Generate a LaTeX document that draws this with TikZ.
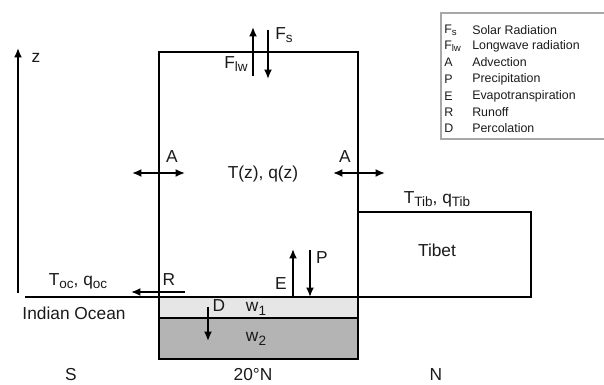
\documentclass[tikz,border=0pt]{standalone}
\usepackage{fontspec}
\setmainfont{Liberation Sans}
\usepackage{xcolor}
\usepackage{tikz}
\usetikzlibrary{arrows.meta}
\definecolor{MBSoilTop}{HTML}{E6E6E6}
\definecolor{MBSoilLow}{HTML}{B4B4B4}
\definecolor{MBFrame}{HTML}{A8A8A8}
\definecolor{MBText}{HTML}{1A1A1A}
\newcommand{\lowsub}[1]{\raisebox{-0.35ex}{\fontsize{0.78em}{1em}\selectfont #1}}

\begin{document}
\begin{tikzpicture}[x=0.75pt,y=-0.75pt,
  wall/.style={line width=1.4pt,black},
  flux/.style={line width=1.4pt,-{Latex[length=7pt,width=6pt]}},
  flux2/.style={line width=1.4pt,{Latex[length=7pt,width=6pt]}-{Latex[length=7pt,width=6pt]}},
  lbl/.style={inner sep=0pt,text=MBText,font=\fontsize{13}{15}\selectfont},
  legtxt/.style={anchor=west,inner sep=0pt,text=MBText,font=\fontsize{9.3}{11}\selectfont}]
\path[use as bounding box] (0,0) rectangle (604,385);
% soil layers
\fill[MBSoilLow] (159,318) rectangle (358,359);
\fill[MBSoilTop] (159,297) rectangle (358,318);
\draw[wall] (159,297) rectangle (358,359);
\draw[wall] (159,318) -- (358,318);
% atmosphere column and Tibet
\draw[wall] (159,297) -- (159,52) -- (358,52) -- (358,297);
\draw[wall] (25,297) -- (358,297);
\draw[wall] (358,212) rectangle (531,297);
% height axis
\coordinate (zlow) at (18,293);
\coordinate (ztop) at (18,48);
\draw[flux] (zlow) -- (ztop);
\node[lbl] (zlab) at (36,58) {z};
% radiation
\coordinate (lwlow) at (253,76);
\coordinate (lwtop) at (253,27);
\coordinate (swtop) at (268,30);
\coordinate (swlow) at (268,79);
\draw[flux] (lwlow) -- (lwtop);
\draw[flux] (swtop) -- (swlow);
\node[lbl] (fs) at (284,35) {F\lowsub{s}};
\node[lbl] (flw) at (236,64) {F\lowsub{lw}};
% advection
\coordinate (advLw) at (132,173);
\coordinate (advLe) at (185,173);
\coordinate (advRw) at (333,173);
\coordinate (advRe) at (385,173);
\draw[flux2] (advLw) -- (advLe);
\draw[flux2] (advRw) -- (advRe);
\node[lbl] (aleft) at (172,157) {A};
\node[lbl] (aright) at (345,157) {A};
\node[lbl] (tq) at (263,174) {T(z), q(z)};
% Tibet
\node[lbl] (tqtib) at (437,199) {T\lowsub{Tib}, q\lowsub{Tib}};
\node[lbl] (tibet) at (437,250) {Tibet};
% surface fluxes
\coordinate (prtop) at (310,250);
\coordinate (prlow) at (310,297);
\coordinate (evlow) at (293,297);
\coordinate (evtop) at (293,249);
\draw[flux] (prtop) -- (prlow);
\draw[flux] (evlow) -- (evtop);
\node[lbl] (plab) at (322,258) {P};
\node[lbl] (elab) at (281,284) {E};
\coordinate (rueast) at (185,292);
\coordinate (ruwest) at (131,292);
\draw[flux] (rueast) -- (ruwest);
\node[lbl] (rlab) at (169,280) {R};
\node[lbl] (tqoc) at (78,281) {T\lowsub{oc}, q\lowsub{oc}};
\node[lbl] (ocean) at (74,313) {Indian Ocean};
\coordinate (petop) at (208,307);
\coordinate (pelow) at (208,341);
\draw[flux] (petop) -- (pelow);
\node[lbl] (dlab) at (219,306) {D};
\node[lbl] (w1) at (256,309) {w\lowsub{1}};
\node[lbl] (w2) at (256,339) {w\lowsub{2}};
% latitude marks
\node[lbl] (south) at (71,375) {S};
\node[lbl] (lat) at (253,375) {20°N};
\node[lbl] (north) at (436,375) {N};
% legend
\draw[MBFrame,line width=0.8pt] (606,13) -- (441,13) -- (441,139) -- (606,139);
\node[legtxt] at (444,30) {F\lowsub{s}};
\node[legtxt] at (472,30) {Solar Radiation};
\node[legtxt] at (444,46) {F\lowsub{lw}};
\node[legtxt] at (472,46) {Longwave radiation};
\node[legtxt] at (444,62) {A};
\node[legtxt] at (472,62) {Advection};
\node[legtxt] at (444,79) {P};
\node[legtxt] at (472,79) {Precipitation};
\node[legtxt] at (444,96) {E};
\node[legtxt] at (472,96) {Evapotranspiration};
\node[legtxt] at (444,112) {R};
\node[legtxt] at (472,112) {Runoff};
\node[legtxt] at (444,128) {D};
\node[legtxt] at (472,128) {Percolation};
\end{tikzpicture}
\end{document}
